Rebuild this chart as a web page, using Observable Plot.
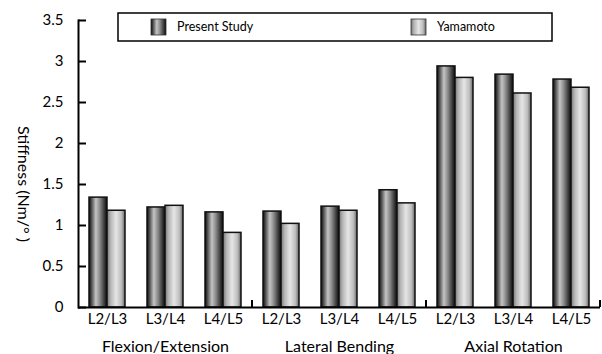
<!DOCTYPE html>
<html><head><meta charset="utf-8">
<script src="https://cdn.jsdelivr.net/npm/d3@7"></script>
<script src="https://cdn.jsdelivr.net/npm/@observablehq/plot@0.6"></script>
<style>body{margin:0;background:#fff}</style>
</head><body><div id="chart"></div>
<script>
const motions = ["Flexion/Extension", "Lateral Bending", "Axial Rotation"];
const levels = ["L2/L3", "L3/L4", "L4/L5"];
const series = ["Present Study", "Yamamoto"];
const presentStudy = [1.34, 1.22, 1.16, 1.17, 1.23, 1.43, 2.94, 2.84, 2.78];
const yamamoto = [1.18, 1.24, 0.91, 1.02, 1.18, 1.27, 2.80, 2.61, 2.68];
const yTicks = [0, 0.5, 1, 1.5, 2, 2.5, 3, 3.5];
const yLabel = "Stiffness (Nm/° )";

const combos = motions.flatMap(m => levels.map(l => m + "|" + l));
const rows = [];
combos.forEach((c, k) => {
  rows.push({combo: c, series: series[0], value: presentStudy[k]});
  rows.push({combo: c, series: series[1], value: yamamoto[k]});
});
const groupRows = motions.map(m => ({combo: m + "|" + levels[1], motion: m}));

const font = "Lato, 'DejaVu Sans', sans-serif";

function defs() {
  const d = d3.create("svg:defs");
  const gP = d.append("linearGradient").attr("id", "gP").attr("x1", 0).attr("x2", 1).attr("y1", 0).attr("y2", 0);
  [[0, "#0a0a0a"], [0.12, "#444"], [0.38, "#c4c4c4"], [0.6, "#8a8a8a"], [0.85, "#3a3a3a"], [1, "#0a0a0a"]]
    .forEach(([o, c]) => gP.append("stop").attr("offset", o).attr("stop-color", c));
  const gY = d.append("linearGradient").attr("id", "gY").attr("x1", 0).attr("x2", 1).attr("y1", 0).attr("y2", 0);
  [[0, "#777"], [0.2, "#b5b5b5"], [0.5, "#e6e6e6"], [0.8, "#bdbdbd"], [1, "#666"]]
    .forEach(([o, c]) => gY.append("stop").attr("offset", o).attr("stop-color", c));
  return d.node();
}

const plot = Plot.plot({
  width: 602, height: 354,
  marginLeft: 78, marginRight: 2, marginTop: 20, marginBottom: 47,
  style: {fontFamily: font, fontSize: "15px", color: "#000", background: "#fff"},
  fx: {domain: combos, padding: 0, label: null},
  x: {domain: series, paddingInner: 0, paddingOuter: 0.57, axis: null},
  y: {domain: [0, 3.5], label: null},
  marks: [
    defs,
    Plot.barY(rows.filter(d => d.series === series[0]), {fx: "combo", x: "series", y: "value", fill: "url(#gP)", stroke: "#111", strokeWidth: 1.5}),
    Plot.barY(rows.filter(d => d.series === series[1]), {fx: "combo", x: "series", y: "value", fill: "url(#gY)", stroke: "#111", strokeWidth: 1.5}),
    Plot.ruleY([0], {stroke: "#000", strokeWidth: 2}),
    Plot.frame({anchor: "left", facetAnchor: "left", stroke: "#000", strokeWidth: 2}),
    Plot.axisY({ticks: yTicks, tickFormat: d => String(d), tickSize: -8, tickPadding: 23, strokeWidth: 2, label: null, fontSize: 15}),
    Plot.axisFx({anchor: "bottom", tickSize: 0, tickPadding: 6, tickFormat: d => d.split("|")[1], label: null, fontSize: 15}),
    Plot.text(groupRows, {fx: "combo", text: "motion", frameAnchor: "bottom", lineAnchor: "top", dy: 33, fontSize: 16})
  ]
});

const svg = d3.select(plot);
const fx = plot.scale("fx");
const y = plot.scale("y");
const y0 = y.apply(0);
const bounds = [fx.apply(combos[3]), fx.apply(combos[6]), fx.range[1]];
svg.append("g").selectAll("line").data(bounds).join("line")
  .attr("x1", d => d).attr("x2", d => d).attr("y1", y0 - 7).attr("y2", y0)
  .attr("stroke", "#000").attr("stroke-width", 2);

// y label
svg.append("text").attr("transform", "translate(22,184) rotate(90)")
  .attr("text-anchor", "middle").attr("dominant-baseline", "middle")
  .style("font-family", font).style("font-size", "16px").text(yLabel);

// legend
const lg = svg.append("g").style("font-family", font).style("font-size", "12.5px");
lg.append("rect").attr("x", 118).attr("y", 13).attr("width", 434).attr("height", 28)
  .attr("fill", "#fff").attr("stroke", "#000").attr("stroke-width", 1.5);
const items = [{s: series[0], fill: "url(#gP)", x: 151}, {s: series[1], fill: "url(#gY)", x: 411}];
items.forEach(it => {
  lg.append("rect").attr("x", it.x).attr("y", 19).attr("width", 15).attr("height", 16)
    .attr("fill", it.fill).attr("stroke", "#333").attr("stroke-width", 0.8);
  lg.append("text").attr("x", it.x + 26).attr("y", 27.5)
    .attr("text-anchor", "start").attr("dominant-baseline", "middle").text(it.s);
});

document.getElementById("chart").appendChild(plot);
</script>
</body></html>
